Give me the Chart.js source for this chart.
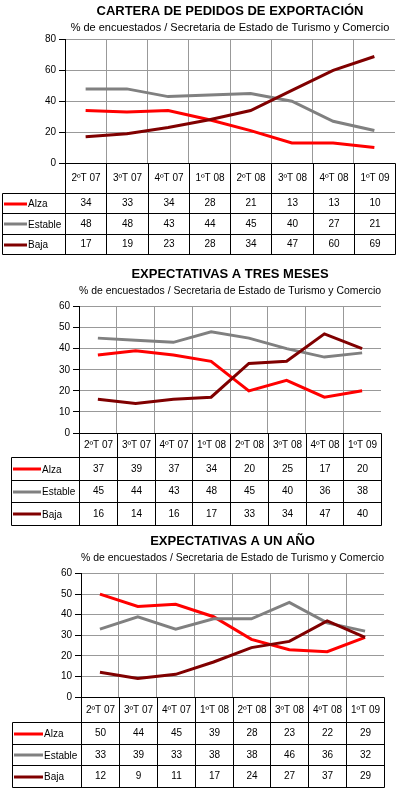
<!DOCTYPE html>
<html lang="es">
<head>
<meta charset="utf-8">
<title>Cartera de pedidos de exportación y expectativas</title>
<script src="https://cdn.jsdelivr.net/npm/chart.js@4.4.1/dist/chart.umd.min.js"></script>
<style>
  html, body { margin: 0; padding: 0; background: #fff; }
  .caja { position: absolute; left: 0; width: 397px; }
  canvas { display: block; }
</style>
</head>
<body>
<div class="caja" style="top:0;height:258px"><canvas id="cartera"></canvas></div>
<div class="caja" style="top:258px;height:270px"><canvas id="tresMeses"></canvas></div>
<div class="caja" style="top:528px;height:265px"><canvas id="unAnio"></canvas></div>
<script>
// Datos (% de encuestados)
const trimestres = ['2ºT 07', '3ºT 07', '4ºT 07', '1ºT 08', '2ºT 08', '3ºT 08', '4ºT 08', '1ºT 09'];
const series = ['Alza', 'Estable', 'Baja'];

const carteraAlza = [34, 33, 34, 28, 21, 13, 13, 10];
const carteraEstable = [48, 48, 43, 44, 45, 40, 27, 21];
const carteraBaja = [17, 19, 23, 28, 34, 47, 60, 69];

const tresMesesAlza = [37, 39, 37, 34, 20, 25, 17, 20];
const tresMesesEstable = [45, 44, 43, 48, 45, 40, 36, 38];
const tresMesesBaja = [16, 14, 16, 17, 33, 34, 47, 40];

const unAnioAlza = [50, 44, 45, 39, 28, 23, 22, 29];
const unAnioEstable = [33, 39, 33, 38, 38, 46, 36, 32];
const unAnioBaja = [12, 9, 11, 17, 24, 27, 37, 29];

const subtitulo = '% de encuestados / Secretaria de Estado de Turismo y Comercio';

// Estilos
const colores = ['#ff0000', '#808080', '#800000'];
const fuente = '"Liberation Sans", Arial, sans-serif';
const gris = '#999999';

// Tabla de datos debajo del gráfico (como en Excel)
const tablaPlugin = {
    id: 'tabla',
    afterDraw(chart, args, opts) {
        const ctx = chart.ctx;
        const x = chart.scales.x;
        const area = chart.chartArea;
        const n = chart.data.labels.length;
        const mitad = (x.getPixelForValue(1) - x.getPixelForValue(0)) / 2;
        const bordes = [];
        for (let i = 0; i <= n; i++) {
            bordes.push(Math.round(x.getPixelForValue(i) - mitad) + 0.5);
        }
        const top = Math.round(area.bottom) + 0.5;
        const finCab = Math.round(area.bottom + opts.cabecera) + 0.5;
        const filas = chart.data.datasets.map((d, r) => Math.round(area.bottom + opts.cabecera + opts.fila * (r + 1)) + 0.5);
        const fondo = filas[filas.length - 1];
        const izq = opts.izquierda + 0.5;
        const der = bordes[n];

        ctx.save();
        ctx.strokeStyle = '#000';
        ctx.lineWidth = 1;
        ctx.beginPath();
        // líneas horizontales
        ctx.moveTo(bordes[0], top); ctx.lineTo(der, top);
        ctx.moveTo(izq, finCab); ctx.lineTo(der, finCab);
        filas.forEach(y => { ctx.moveTo(izq, y); ctx.lineTo(der, y); });
        // líneas verticales
        bordes.forEach(bx => { ctx.moveTo(bx, top); ctx.lineTo(bx, fondo); });
        ctx.moveTo(izq, finCab); ctx.lineTo(izq, fondo);
        ctx.stroke();

        ctx.font = '10px ' + fuente;
        ctx.fillStyle = '#000';
        ctx.textBaseline = 'middle';
        ctx.textAlign = 'center';
        const yCab = (top + finCab) / 2;
        chart.data.labels.forEach((etq, i) => {
            ctx.fillText(etq, (bordes[i] + bordes[i + 1]) / 2, yCab);
        });

        let arriba = finCab;
        chart.data.datasets.forEach((ds, r) => {
            const yMed = (arriba + filas[r]) / 2;
            // muestra de la serie
            ctx.strokeStyle = ds.borderColor;
            ctx.lineWidth = 3;
            ctx.beginPath();
            ctx.moveTo(opts.izquierda + 2, Math.round(yMed));
            ctx.lineTo(opts.izquierda + 2 + opts.muestra, Math.round(yMed));
            ctx.stroke();
            ctx.textAlign = 'left';
            ctx.fillText(ds.label, opts.izquierda + 3 + opts.muestra, yMed + 1);
            ctx.textAlign = 'center';
            ds.data.forEach((v, i) => {
                ctx.fillText(String(v), (bordes[i] + bordes[i + 1]) / 2, yMed);
            });
            arriba = filas[r];
        });
        ctx.restore();
    }
};

function crearGrafico(id, titulo, valores, ejeY, geo) {
    const datasets = series.map((nombre, i) => ({
        label: nombre,
        data: valores[i],
        borderColor: colores[i],
        backgroundColor: colores[i],
        borderWidth: 3,
        pointRadius: 0,
        tension: 0,
        order: series.length - i
    }));

    return new Chart(document.getElementById(id), {
        type: 'line',
        data: { labels: trimestres, datasets: datasets },
        options: {
            responsive: true,
            maintainAspectRatio: false,
            animation: false,
            layout: { padding: { left: 0, right: geo.derecha, top: 0, bottom: geo.abajo } },
            plugins: {
                legend: { display: false },
                tooltip: { enabled: false },
                title: {
                    display: true,
                    text: titulo,
                    fullSize: false,
                    color: '#000',
                    font: { family: fuente, size: 13, weight: 'bold', lineHeight: 1 },
                    padding: { top: geo.t1, bottom: 0 }
                },
                subtitle: {
                    display: true,
                    text: subtitulo,
                    fullSize: false,
                    color: '#000',
                    font: { family: fuente, size: 11, lineHeight: 1 },
                    padding: { top: geo.t2, bottom: geo.t3 }
                },
                tabla: {
                    cabecera: geo.cabecera,
                    fila: geo.fila,
                    izquierda: geo.tablaIzq,
                    muestra: geo.muestra
                }
            },
            scales: {
                x: {
                    offset: true,
                    grid: {
                        offset: true,
                        drawTicks: false,
                        color: c => (c.type !== 'tick' || c.index === 0) ? 'rgba(0,0,0,0)' : gris
                    },
                    border: { display: false },
                    ticks: { display: false }
                },
                y: {
                    min: 0,
                    max: ejeY.max,
                    ticks: { stepSize: ejeY.paso, color: '#000', font: { family: fuente, size: 10 }, padding: 3 },
                    grid: { color: gris, tickColor: '#000', tickLength: 6 },
                    border: { color: '#000' },
                    afterFit: s => { s.width = geo.izquierda; }
                }
            }
        },
        plugins: [tablaPlugin]
    });
}

crearGrafico('cartera', 'CARTERA DE PEDIDOS DE EXPORTACIÓN',
    [carteraAlza, carteraEstable, carteraBaja], { max: 80, paso: 20 },
    { izquierda: 65, derecha: 2, abajo: 95, t1: 5, t2: 4, t3: 6.5, cabecera: 30, fila: 20.3, tablaIzq: 2, muestra: 23 });

crearGrafico('tresMeses', 'EXPECTATIVAS A TRES MESES',
    [tresMesesAlza, tresMesesEstable, tresMesesBaja], { max: 60, paso: 10 },
    { izquierda: 79, derecha: 16, abajo: 95, t1: 9.75, t2: 4.75, t3: 10, cabecera: 24, fila: 22.5, tablaIzq: 11, muestra: 28 });

crearGrafico('unAnio', 'EXPECTATIVAS A UN AÑO',
    [unAnioAlza, unAnioEstable, unAnioBaja], { max: 60, paso: 10 },
    { izquierda: 81, derecha: 13, abajo: 96, t1: 7.25, t2: 4.25, t3: 10, cabecera: 25, fila: 21.7, tablaIzq: 12, muestra: 29 });
</script>
</body>
</html>
